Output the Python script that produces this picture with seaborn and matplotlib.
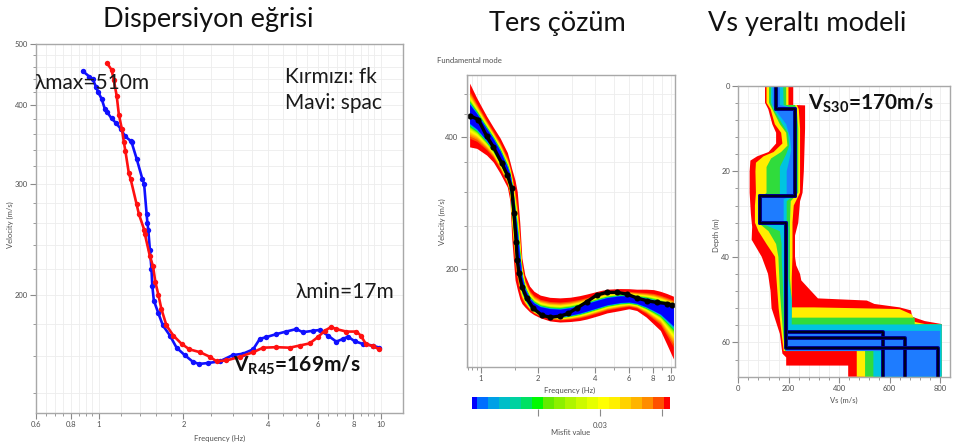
import numpy as np
import pandas as pd
import matplotlib
matplotlib.use("Agg")
import matplotlib.pyplot as plt
import seaborn as sns
from matplotlib.colors import ListedColormap, BoundaryNorm
from matplotlib.ticker import FixedLocator, FixedFormatter, NullFormatter
from matplotlib.cm import ScalarMappable

# ---------------- data ----------------
# Dispersion curves: SPAC (blue) and f-k (red); frequency in Hz, phase velocity in m/s
spac_freq = [0.878, 0.927, 0.953, 0.978, 0.998, 1.026, 1.053, 1.072, 1.112, 1.151,
             1.203, 1.24, 1.30, 1.31, 1.364, 1.428, 1.45, 1.48, 1.49, 1.50,
             1.52, 1.54, 1.55, 1.57, 1.63, 1.69, 1.79, 1.89, 2.02, 2.16,
             2.27, 2.44, 2.69, 2.99, 3.25, 3.53, 3.73, 3.93, 4.27, 4.62,
             5.02, 5.30, 5.75, 6.08, 6.50, 6.96, 7.36, 7.66, 8.08, 8.64,
             9.36, 9.9]
spac_vel = [453, 444, 440, 428, 419, 409, 394, 390, 381, 375,
            366, 357, 351, 349, 329, 306, 300, 269, 260, 254,
            236, 220, 207, 196, 187, 179, 172.5, 165, 160.6, 156.7,
            155.5, 156, 157, 160.6, 161.4, 164, 170.4, 171.5, 173.4, 175,
            176.6, 174.6, 175.5, 176, 172.5, 168.7, 170.4, 171.8, 169, 167.3,
            166.3, 165]
fk_freq = [1.072, 1.112, 1.133, 1.16, 1.18, 1.21, 1.23, 1.245, 1.28, 1.30,
           1.364, 1.39, 1.45, 1.46, 1.52, 1.56, 1.59, 1.63, 1.67, 1.74,
           1.84, 1.97, 2.10, 2.29, 2.48, 2.62, 2.84, 3.17, 3.53, 3.83,
           4.27, 4.76, 5.16, 5.60, 5.99, 6.33, 6.68, 6.96, 7.56, 8.2,
           8.5, 8.86, 9.36, 9.9]
fk_vel = [466, 455, 438, 413, 386.5, 366, 349, 338, 312, 305,
          278.5, 268.7, 254, 249.5, 230.5, 222, 209.5, 200, 190, 179,
          172.5, 167.3, 164, 162.3, 159.6, 157, 157.5, 159.6, 162.3, 165,
          165.3, 165, 166.3, 167.6, 171.5, 175.5, 178, 176.6, 175, 175,
          172.5, 167.3, 166, 164]

# Inversion: target curve and spread of the model ensemble
target_freq = [0.875, 0.968, 1.07, 1.16, 1.285, 1.375, 1.45, 1.49, 1.53, 1.55,
               1.585, 1.64, 1.74, 1.88, 2.09, 2.31, 2.60, 2.88, 3.19, 3.60,
               4.06, 4.58, 5.18, 5.85, 6.60, 7.45, 8.4, 9.5, 10.1]
target_vel = [446, 437, 401, 379, 348, 327, 305, 268, 231, 209.6,
              195.6, 182.5, 171.6, 163, 157, 155.4, 156.3, 158.6, 163, 168.5,
              174.5, 177, 177, 175.5, 172, 169.5, 168, 167, 166]
band_freq = [0.87, 0.95, 1.07, 1.16, 1.26, 1.375, 1.42, 1.45, 1.48, 1.51,
             1.55, 1.60, 1.64, 1.70, 1.80, 1.90, 2.05, 2.3, 2.6, 2.95,
             3.3, 3.6, 4.2, 4.6, 5.4, 6.0, 6.6, 7.4, 8.1, 8.8,
             9.5, 10.3]
band_best = [452, 435, 405, 385, 360, 330, 318, 300, 275, 250,
             222, 195, 184, 175, 167, 163, 160, 158.5, 158, 159.5,
             161.5, 163.5, 167, 169, 171, 171, 170, 168, 166, 164,
             162, 160]
band_upper = [529, 489, 445, 420, 397, 368, 350, 338, 328, 318,
              300, 254, 212, 194, 183, 178, 174.5, 172.5, 172, 172.6,
              174, 175.5, 178.5, 180, 180.6, 180.5, 180, 180, 179.6, 178,
              176, 173.5]
band_lower = [379, 376, 363, 350, 330, 307, 285, 235, 210, 189,
              180, 171, 167, 164, 160, 157.5, 155, 152.5, 151.6, 152,
              152.8, 154, 157, 159, 161, 162.5, 161, 155.6, 150, 145,
              135, 125]

# Misfit palette (best -> worst)
misfit_colors = ['#0000ff', '#006eff', '#00a0e6', '#00bec8', '#00d2a0', '#00e164',
                 '#00fa00', '#64eb00', '#8cf000', '#aff500', '#cdfa00', '#e6ff00',
                 '#ffff00', '#fff000', '#ffd200', '#ffb400', '#ff8c00', '#ff5000',
                 '#ff0000']
misfit_ticks = [0.02, 0.03, 0.04]
misfit_ticklabels = ['', '0.03', '']

# Vs profiles: best models (layer tops in m, Vs in m/s)
layer_top = [0, 5.5, 25.8, 32.1]
layer_vs = [150, 225, 86, 189]
halfspace_top = [57.6, 59.0, 61.3]
halfspace_vs = [573, 661, 792]

# Regions of the Vs-depth plane reached by models of each misfit class
zone_red_vs = [106, 106, 119, 135, 150, 150, 120, 75, 48, 45,
               45, 50, 55, 53, 93, 118, 128, 132, 165, 175,
               190, 190, 436, 436, 807, 807, 740, 690, 685, 640,
               540, 510, 316, 286, 250, 245, 230, 225, 225, 238,
               245, 255, 260, 265, 265, 218, 218]
zone_red_depth = [0, 4, 5.5, 9, 11, 13.5, 15.5, 16.5, 17.5, 20,
                  25, 30, 33, 36, 40, 44, 48, 52, 58, 62.6,
                  63.5, 65.4, 65.4, 68, 68, 55.7, 55, 54, 52.5, 51.8,
                  51, 50.2, 49.7, 47.8, 45.5, 44, 42, 40, 35, 32,
                  27, 25, 20, 10, 4.6, 4.5, 0]
zone_yellow_vs = [112, 112, 128, 145, 170, 175, 140, 100, 70, 68,
                  70, 66, 66, 80, 112, 146, 150, 155, 160, 172,
                  180, 470, 470, 807, 807, 700, 690, 640, 300, 212,
                  212, 215, 215, 215, 220, 245, 245, 240, 232, 199,
                  199]
zone_yellow_depth = [0, 4, 5.5, 9, 11, 13.5, 15.5, 16.5, 18, 20,
                     25, 28, 32, 34, 37, 40, 44, 48, 52, 58,
                     62, 62, 68, 68, 56.5, 55.2, 53.5, 52.2, 51.8, 51.8,
                     45, 40, 36, 32, 28, 25, 10, 5.5, 4.5, 4.5,
                     0]
zone_green_vs = [122, 122, 135, 165, 190, 195, 170, 130, 112, 112,
                 79, 79, 120, 150, 159, 162, 165, 170, 178, 185,
                 503, 503, 807, 807, 700, 700, 212, 212, 205, 205,
                 205, 208, 238, 238, 232, 225, 190, 190]
zone_green_depth = [0, 4, 5.5, 9, 11, 14, 15.5, 17, 19, 25,
                    27, 32, 34, 37, 40, 44, 48, 52, 58, 62,
                    62, 68, 68, 55.7, 55.7, 54.2, 54.2, 50, 45, 36,
                    32, 27, 25, 10, 5.5, 4.5, 4.5, 0]
zone_cyan_vs = [130, 130, 140, 175, 197, 202, 190, 165, 165, 84,
                84, 165, 172, 172, 175, 178, 180, 183, 190, 536,
                536, 807, 807, 212, 212, 199, 199, 192, 192, 232,
                232, 226, 180, 178]
zone_cyan_depth = [0, 4, 5.5, 9, 11, 14, 16, 19, 25.3, 25.8,
                   32, 34, 37, 40, 44, 48, 52, 58, 62, 62,
                   68, 68, 55.8, 55.8, 50, 45, 33, 32, 27, 25,
                   10, 5.5, 4.5, 0]
zone_blue_vs = [136, 136, 145, 190, 205, 210, 200, 192, 192, 86,
                86, 181, 181, 183, 185, 190, 569, 569, 800, 800,
                199, 199, 195, 195, 180, 180, 230, 230, 229, 165,
                165]
zone_blue_depth = [0, 4.5, 5.5, 9, 12, 15, 18, 20, 25.5, 25.8,
                   32.2, 32.5, 40, 48, 57.3, 62, 62, 68, 68, 57.3,
                   57.3, 50, 45, 33, 32, 26.5, 25.5, 10, 5.5, 4.5,
                   0]
zone_colors = ['#ff0000', '#ffee00', '#30dc3c', '#00c4e0', '#1e7cff']

# ---------------- style ----------------
sns.set_theme(style="white")
plt.rcParams['font.family'] = ['Lato', 'DejaVu Sans']
plt.rcParams['mathtext.fontset'] = 'custom'
plt.rcParams['mathtext.rm'] = 'Lato'
plt.rcParams['mathtext.bf'] = 'Lato:bold'
plt.rcParams['mathtext.it'] = 'Lato:italic'

W, H = 959, 448
fig = plt.figure(figsize=(W / 100, H / 100), dpi=100)
fig.patch.set_facecolor('white')


def axes_at(left, top, right, bottom):
    return fig.add_axes([left / W, 1 - bottom / H, (right - left) / W, (bottom - top) / H])


SPINE = '#a8a8a8'
TICKC = '#8a8a8a'
LABC = '#505050'
GRIDC = '#ededed'


def style_axes(ax):
    for s in ax.spines.values():
        s.set_color(SPINE)
        s.set_linewidth(1.0)
        s.set_visible(True)
    ax.tick_params(which='both', direction='out', colors=TICKC, labelcolor=LABC,
                   labelsize=5.5, left=True, bottom=True, top=False, right=False, pad=2)
    ax.tick_params(which='major', length=4, width=0.8)
    ax.tick_params(which='minor', length=2.5, width=0.6)
    ax.grid(which='both', color=GRIDC, lw=0.6)
    ax.set_axisbelow(True)
    ax.set_facecolor('white')


def set_ticks(axis, major, labels, minor):
    axis.set_major_locator(FixedLocator(major))
    axis.set_major_formatter(FixedFormatter(labels))
    axis.set_minor_locator(FixedLocator(minor))
    axis.set_minor_formatter(NullFormatter())


def small_label(ax, x, y, s, rot=0):
    ax.text(x, y, s, transform=ax.transAxes, ha='center', va='center',
            rotation=rot, fontsize=5.5, color=LABC)


# ---------------- panel 1: dispersion curves ----------------
ax1 = axes_at(36, 44, 403, 413)
ax1.set_xscale('log')
ax1.set_yscale('log')
style_axes(ax1)
spac = pd.DataFrame({'f': spac_freq, 'v': spac_vel})
fk = pd.DataFrame({'f': fk_freq, 'v': fk_vel})
sns.lineplot(data=spac, x='f', y='v', ax=ax1, color='#1010ff', lw=1.9, marker='o',
             markersize=3.9, markeredgewidth=0, sort=False, estimator=None)
sns.lineplot(data=fk, x='f', y='v', ax=ax1, color='#ff1010', lw=1.9, marker='o',
             markersize=3.9, markeredgewidth=0, sort=False, estimator=None)
ax1.set_xlim(0.6, 12)
ax1.set_ylim(130, 500)
set_ticks(ax1.xaxis, [0.6, 0.8, 1, 2, 4, 6, 8, 10],
          ['0.6', '0.8', '1', '2', '4', '6', '8', '10'],
          [0.65, 0.7, 0.75, 0.85, 0.9, 0.95, 1.2, 1.4, 1.6, 1.8,
           2.5, 3, 3.5, 4.5, 5, 5.5, 6.5, 7, 7.5, 8.5, 9, 9.5])
set_ticks(ax1.yaxis, [200, 300, 400, 500], ['200', '300', '400', '500'],
          [140, 160, 180, 220, 240, 260, 280, 320, 340, 360, 380, 420, 440, 460, 480])
ax1.set_xlabel('')
ax1.set_ylabel('')
small_label(ax1, 0.501, -0.068, 'Frequency (Hz)')
small_label(ax1, -0.071, 0.51, 'Velocity (m/s)', rot=90)

ax1.text(-0.004, 0.895, 'λmax=510m', transform=ax1.transAxes, ha='left', va='center',
         fontsize=15, color='#1a1a1a')
ax1.text(0.678, 0.911, 'Kırmızı: fk', transform=ax1.transAxes, ha='left', va='center',
         fontsize=15, color='#1a1a1a')
ax1.text(0.678, 0.841, 'Mavi: spac', transform=ax1.transAxes, ha='left', va='center',
         fontsize=15, color='#1a1a1a')
ax1.text(0.706, 0.329, 'λmin=17m', transform=ax1.transAxes, ha='left', va='center',
         fontsize=15, color='#1a1a1a')
ax1.text(0.537, 0.130, r'$\mathbf{V_{R45}}$=169m/s', transform=ax1.transAxes, ha='left',
         va='center', fontsize=15, fontweight='bold', color='#111111')

# ---------------- panel 2: inversion ----------------
ax2 = axes_at(466.7, 75, 675, 366.7)
ax2.set_xscale('log')
ax2.set_yscale('log')
style_axes(ax2)
bfreq = np.array(band_freq)
bbest = np.array(band_best)
bup = np.array(band_upper)
blo = np.array(band_lower)
n_col = len(misfit_colors)
# worst models drawn first (widest spread), best models last
for i, col in enumerate(misfit_colors[::-1]):
    t = 1.0 - 0.70 * (i / (n_col - 1)) ** 0.35
    ax2.fill_between(bfreq, bbest * (blo / bbest) ** t, bbest * (bup / bbest) ** t,
                     color=col, lw=0)
tgt = pd.DataFrame({'f': target_freq, 'v': target_vel})
sns.lineplot(data=tgt, x='f', y='v', ax=ax2, color='black', lw=2.4, marker='o',
             markersize=4.4, markeredgewidth=0, sort=False, estimator=None)
ax2.set_xlim(0.84, 10.5)
ax2.set_ylim(120, 552)
set_ticks(ax2.xaxis, [1, 2, 4, 6, 8, 10], ['1', '2', '4', '6', '8', '10'],
          [0.85, 0.9, 0.95, 1.5, 3, 5, 7, 9])
set_ticks(ax2.yaxis, [200, 400], ['200', '400'], [150, 250, 300, 350, 450, 500])
ax2.set_xlabel('')
ax2.set_ylabel('')
small_label(ax2, 0.496, -0.080, 'Frequency (Hz)')
small_label(ax2, -0.115, 0.497, 'Velocity (m/s)', rot=90)
fig.text(437 / W, 1 - 60.7 / H, 'Fundamental mode', ha='left', va='center',
         fontsize=5.5, color=LABC)

# misfit colour scale
cax = axes_at(471.7, 396.7, 670, 409.3)
vmin, vmax = 0.0093, 0.0413
step = (vmax - vmin) / (n_col - 1)
bounds = [vmin] + [vmin + step * (k + 0.5) for k in range(n_col - 1)] + [vmax]
cmap = ListedColormap(misfit_colors)
norm = BoundaryNorm(bounds, cmap.N)
cb = fig.colorbar(ScalarMappable(norm=norm, cmap=cmap), cax=cax, orientation='horizontal',
                  spacing='proportional')
cb.outline.set_visible(False)
cb.set_ticks(misfit_ticks)
cb.set_ticklabels(misfit_ticklabels)
cax.tick_params(colors=TICKC, labelcolor=LABC, labelsize=5.5, length=5, width=0.8,
                direction='out', pad=4)
cax.minorticks_off()
fig.text(571 / W, 1 - 432.3 / H, 'Misfit value', ha='center', va='center',
         fontsize=5.5, color=LABC)

# ---------------- panel 3: Vs profiles ----------------
ax3 = axes_at(738.3, 85.7, 950, 376.7)
style_axes(ax3)
zones = [(zone_red_vs, zone_red_depth), (zone_yellow_vs, zone_yellow_depth),
         (zone_green_vs, zone_green_depth), (zone_cyan_vs, zone_cyan_depth),
         (zone_blue_vs, zone_blue_depth)]
for (zv, zd), col in zip(zones, zone_colors):
    ax3.fill(zv, zd, color=col, lw=0)

for h_top, h_vs in zip(halfspace_top, halfspace_vs):
    xs, ys = [], []
    bases = layer_top[1:] + [h_top]
    for top, base, v in zip(layer_top, bases, layer_vs):
        xs += [v, v]
        ys += [top, base]
    xs += [h_vs, h_vs]
    ys += [h_top, 68]
    prof = pd.DataFrame({'vs': xs, 'z': ys})
    sns.lineplot(data=prof, x='vs', y='z', ax=ax3, color='#000090', lw=2.8,
                 sort=False, estimator=None)
    sns.lineplot(data=prof, x='vs', y='z', ax=ax3, color='black', lw=1.1,
                 sort=False, estimator=None)
ax3.set_xlim(0, 840)
ax3.set_ylim(68, 0)
set_ticks(ax3.xaxis, [0, 200, 400, 600, 800], ['0', '200', '400', '600', '800'],
          [v for v in range(40, 840, 40) if v % 200])
set_ticks(ax3.yaxis, [0, 20, 40, 60], ['0', '20', '40', '60'],
          [d for d in range(4, 68, 4) if d % 20])
ax3.set_xlabel('')
ax3.set_ylabel('')
small_label(ax3, 0.499, -0.080, 'Vs (m/s)')
small_label(ax3, -0.102, 0.487, 'Depth (m)', rot=90)
ax3.text(0.329, 0.9405, r'$\mathbf{V_{S30}}$=170m/s', transform=ax3.transAxes, ha='left',
         va='center', fontsize=15, fontweight='bold', color='#111111')

# ---------------- titles ----------------
fig.text(208 / W, 1 - 27 / H, 'Dispersiyon eğrisi', ha='center', va='baseline',
         fontsize=19.5, color='#111111')
fig.text(557.5 / W, 1 - 31 / H, 'Ters çözüm', ha='center', va='baseline',
         fontsize=19.5, color='#111111')
fig.text(807.5 / W, 1 - 31 / H, 'Vs yeraltı modeli', ha='center', va='baseline',
         fontsize=19.5, color='#111111')

fig.savefig('out.png', dpi=100, facecolor='white')
